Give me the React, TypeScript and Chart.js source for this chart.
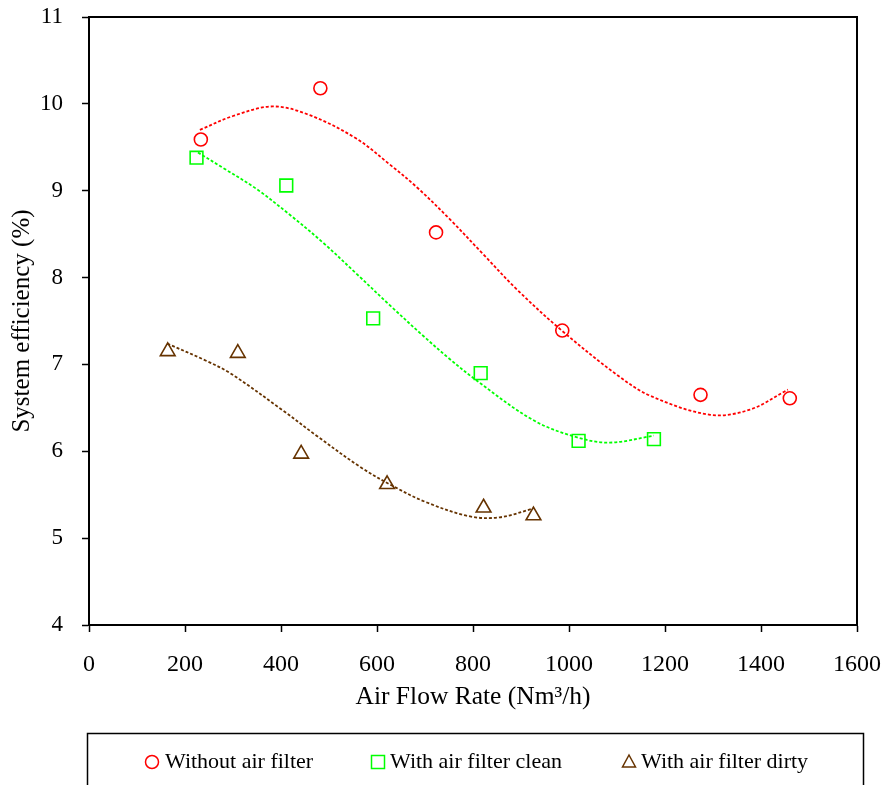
import React, { useEffect, useRef } from "react";
import { Chart, registerables } from "chart.js";

Chart.register(...registerables);

// Measured points
const redX = [233, 482, 723, 986, 1274, 1460];
const redY = [9.59, 10.18, 8.52, 7.39, 6.65, 6.61];
const greenX = [224, 411, 592, 816, 1020, 1177];
const greenY = [9.38, 9.06, 7.53, 6.9, 6.12, 6.14];
const brownX = [164, 310, 442, 621, 822, 926];
const brownY = [7.15, 7.13, 5.97, 5.62, 5.35, 5.26];

// Trend lines
const redFitX = [231, 300, 383, 460, 557, 627, 683, 752, 821, 892, 985, 1100, 1169, 1294, 1377, 1456];
const redFitY = [9.7, 9.86, 9.97, 9.87, 9.6, 9.3, 9.04, 8.67, 8.27, 7.86, 7.39, 6.88, 6.64, 6.42, 6.48, 6.71];
const greenFitX = [227, 280, 349, 419, 488, 558, 627, 696, 752, 804, 925, 1017, 1085, 1177];
const greenFitY = [9.44, 9.26, 9.02, 8.72, 8.4, 8.04, 7.68, 7.33, 7.06, 6.83, 6.36, 6.16, 6.1, 6.18];
const brownFitX = [163, 245, 294, 404, 474, 565, 633, 704, 794, 856, 925];
const brownFitY = [7.24, 7.04, 6.9, 6.47, 6.18, 5.82, 5.6, 5.41, 5.25, 5.24, 5.34];

const xTicks = [0, 200, 400, 600, 800, 1000, 1200, 1400, 1600];
const yTicks = [4, 5, 6, 7, 8, 9, 10, 11];

const seriesNames = ["Without air filter", "With air filter clean", "With air filter dirty"];
const RED = "#ff0000";
const GREEN = "#00ff00";
const BROWN = "#663300";
const FONT = "'Liberation Serif', 'Times New Roman', serif";

const pts = (xs: number[], ys: number[]) => xs.map((x, i) => ({ x, y: ys[i] }));

const framePlugin = {
  id: "frame",
  afterDraw(chart: any) {
    const { ctx, chartArea } = chart;
    ctx.save();
    ctx.strokeStyle = "#000";
    ctx.lineWidth = 2;
    ctx.strokeRect(chartArea.left, chartArea.top, chartArea.right - chartArea.left, chartArea.bottom - chartArea.top);
    ctx.restore();
  },
};

const legendPlugin = {
  id: "customLegend",
  afterDraw(chart: any) {
    const { ctx } = chart;
    ctx.save();
    ctx.strokeStyle = "#000";
    ctx.lineWidth = 1.5;
    ctx.strokeRect(87.5, 733.5, 776, 70);
    const cy = 762;
    ctx.font = `22px ${FONT}`;
    ctx.textBaseline = "middle";
    ctx.fillStyle = "#000";
    ctx.lineWidth = 1.5;
    ctx.strokeStyle = RED;
    ctx.beginPath();
    ctx.arc(152, cy, 6.5, 0, Math.PI * 2);
    ctx.stroke();
    ctx.fillText(seriesNames[0], 165, cy);
    ctx.strokeStyle = GREEN;
    ctx.strokeRect(371.5, cy - 6.5, 13, 13);
    ctx.fillText(seriesNames[1], 390, cy);
    ctx.strokeStyle = BROWN;
    ctx.beginPath();
    ctx.moveTo(629, cy - 7);
    ctx.lineTo(635.5, cy + 5);
    ctx.lineTo(622.5, cy + 5);
    ctx.closePath();
    ctx.stroke();
    ctx.fillText(seriesNames[2], 641, cy);
    ctx.restore();
  },
};

const zeroPad = (s: any) => {
  s.paddingTop = 0;
  s.paddingBottom = 0;
  s.paddingLeft = 0;
  s.paddingRight = 0;
};

export default function App() {
  const ref = useRef<HTMLCanvasElement>(null);
  useEffect(() => {
    document.body.style.margin = "0";
    const fitLine = (data: any, color: string) => ({
      data,
      showLine: true,
      borderColor: color,
      borderWidth: 1.8,
      borderDash: [3, 2],
      pointRadius: 0,
      tension: 0.35,
      fill: false,
    });
    const marker = (label: string, data: any, color: string, style: string, r: number) => ({
      label,
      data,
      showLine: false,
      pointStyle: style,
      pointRadius: r,
      pointBorderColor: color,
      pointBackgroundColor: "rgba(0,0,0,0)",
      pointBorderWidth: 1.6,
      borderColor: color,
    });
    const chart = new Chart(ref.current!, {
      type: "scatter",
      data: {
        datasets: [
          marker(seriesNames[0], pts(redX, redY), RED, "circle", 6.5),
          marker(seriesNames[1], pts(greenX, greenY), GREEN, "rect", 9),
          marker(seriesNames[2], pts(brownX, brownY), BROWN, "triangle", 8.5),
          fitLine(pts(redFitX, redFitY), RED),
          fitLine(pts(greenFitX, greenFitY), GREEN),
          fitLine(pts(brownFitX, brownFitY), BROWN),
        ] as any,
      },
      options: {
        responsive: false,
        animation: false,
        devicePixelRatio: 1,
        layout: { padding: { left: 0, top: 17, right: 30, bottom: 0 } },
        plugins: { legend: { display: false }, tooltip: { enabled: false } },
        scales: {
          x: {
            type: "linear",
            min: xTicks[0],
            max: xTicks[xTicks.length - 1],
            afterBuildTicks: (s: any) => { s.ticks = xTicks.map((v) => ({ value: v })); },
            afterFit: (s: any) => { s.height = 160; zeroPad(s); },
            ticks: { color: "#000", font: { family: FONT, size: 24 }, padding: 18, maxRotation: 0, callback: (v: any) => String(v) },
            grid: { display: true, drawOnChartArea: false, drawTicks: true, tickLength: 7, tickColor: "#000", tickWidth: 1.5 },
            border: { display: true, color: "#000", width: 2 },
            title: { display: true, text: "Air Flow Rate (Nm³/h)", color: "#000", font: { family: FONT, size: 25.5 }, padding: { top: 0, bottom: 72 } },
          },
          y: {
            type: "linear",
            min: yTicks[0],
            max: yTicks[yTicks.length - 1],
            afterBuildTicks: (s: any) => { s.ticks = yTicks.map((v) => ({ value: v })); },
            afterFit: (s: any) => { s.width = 89; zeroPad(s); },
            ticks: { color: "#000", font: { family: FONT, size: 23 }, padding: 19, callback: (v: any) => String(v) },
            grid: { display: true, drawOnChartArea: false, drawTicks: true, tickLength: 7, tickColor: "#000", tickWidth: 1.5 },
            border: { display: true, color: "#000", width: 2 },
            title: { display: true, text: "System efficiency (%)", color: "#000", font: { family: FONT, size: 25 }, padding: { top: 7, bottom: 0 } },
          },
        },
      } as any,
      plugins: [framePlugin, legendPlugin],
    });
    return () => chart.destroy();
  }, []);
  return (
    <div style={{ position: "absolute", left: 0, top: 0, width: 887, height: 785 }}>
      <canvas ref={ref} width={887} height={785} />
    </div>
  );
}
